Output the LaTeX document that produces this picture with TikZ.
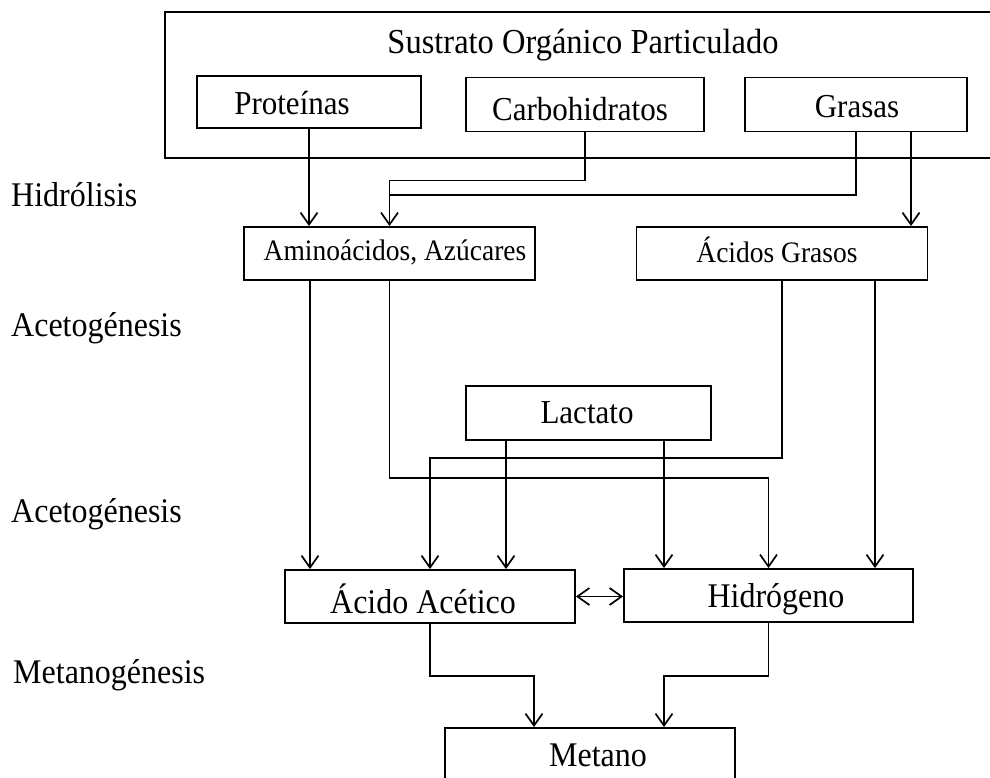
\documentclass[tikz,border=0pt]{standalone}
\usepackage{fontspec}
\setmainfont{Liberation Serif}
\usetikzlibrary{arrows.meta,calc}
\newcommand{\vtxt}[1]{\scalebox{1}[1.08]{#1}}
\begin{document}
\begin{tikzpicture}[x=1pt,y=-1pt,
  box/.style={draw,line width=1.9pt,rectangle,inner sep=0pt},
  txt/.style={inner sep=0pt,font=\fontsize{31}{36}\selectfont},
  ltxt/.style={inner sep=0pt,font=\fontsize{32}{37}\selectfont},
  stxt/.style={inner sep=0pt,font=\fontsize{27.5}{32}\selectfont},
  ln/.style={line width=1.7pt},
  arr/.style={ln,-{Straight Barb[length=12pt,width=17pt,line width=1.7pt]}},
  darr/.style={ln,{Straight Barb[length=12pt,width=17pt,line width=1.7pt]}-{Straight Barb[length=12pt,width=17pt,line width=1.7pt]}}]
\clip (0,0) rectangle (990,778);
\fill[white] (0,0) rectangle (990,778);
% boxes
\node[box,minimum width=830pt,minimum height=146pt] (outer) at (580,85) {};
\node[inner sep=0pt,font=\fontsize{32.5}{38}\selectfont] (tsus) at (583,45) {\vtxt{Sustrato Orgánico Particulado}};
\node[box,minimum width=224pt,minimum height=52pt] (prot) at (309,102) {};
\node[txt] (tprot) at (292,103) {\vtxt{Proteínas}};
\node[box,minimum width=238pt,minimum height=54pt] (carb) at (585,104.5) {};
\node[txt] (tcarb) at (580,109) {\vtxt{Carbohidratos}};
\node[box,minimum width=222pt,minimum height=54pt] (gras) at (856,104.5) {};
\node[txt] (tgras) at (857,107) {\vtxt{Grasas}};
\node[box,minimum width=291pt,minimum height=53pt] (amino) at (389.5,253.5) {};
\node[stxt] (tamino) at (395,252) {\vtxt{Aminoácidos, Azúcares}};
\node[box,minimum width=291pt,minimum height=53pt] (acgras) at (782,253.5) {};
\node[stxt] (tacgras) at (777,250) {\vtxt{Ácidos Grasos}};
\node[box,minimum width=245pt,minimum height=54pt] (lact) at (588.5,413) {};
\node[txt] (tlact) at (587,413) {\vtxt{Lactato}};
\node[box,minimum width=290pt,minimum height=53pt] (acet) at (430,596.5) {};
\node[ltxt] (tacet) at (423,599) {\vtxt{Ácido Acético}};
\node[box,minimum width=289pt,minimum height=53pt] (hidro) at (768.5,595.5) {};
\node[ltxt] (thidro) at (776,599) {\vtxt{Hidrógeno}};
\node[box,minimum width=290pt,minimum height=72pt] (metano) at (590,764) {};
\node[ltxt] (tmet) at (598,755) {\vtxt{Metano}};
% side labels
\node[ltxt,anchor=west] (l1) at (11,195) {\vtxt{Hidrólisis}};
\node[ltxt,anchor=west] (l2) at (11,328) {\vtxt{Acetogénesis}};
\node[ltxt,anchor=west] (l3) at (11,514) {\vtxt{Acetogénesis}};
\node[ltxt,anchor=west] (l4) at (13,675) {\vtxt{Metanogénesis}};
% connectors
\draw[arr] (prot.south) -- (prot.south |- amino.north);
\draw[arr] (carb.south) -- ++(0,48) -| (amino.north);
\draw[ln] (gras.south) |- ($(amino.north)+(0,-31)$);
\draw[arr] ([xshift=55pt]gras.south) -- ([xshift=55pt]gras.south |- acgras.north);
\draw[arr] ([xshift=-79.5pt]amino.south) -- ([xshift=-79.5pt]amino.south |- acet.north);
\draw[arr] (amino.south) -- ++(0,197) -| (hidro.north);
\draw[arr] (acgras.south) -- ++(0,177) -| (acet.north);
\draw[arr] ([xshift=93pt]acgras.south) -- ([xshift=93pt]acgras.south |- hidro.north);
\draw[arr] ([xshift=-82.5pt]lact.south) -- ([xshift=-82.5pt]lact.south |- acet.north);
\draw[arr] ([xshift=75.5pt]lact.south) -- ([xshift=75.5pt]lact.south |- hidro.north);
\draw[darr] (acet.east) -- (acet.east -| hidro.west);
\draw[arr] (acet.south) -- ++(0,52) -| ([xshift=-56pt]metano.north);
\draw[arr] (hidro.south) -- ++(0,53) -| ([xshift=74pt]metano.north);
\end{tikzpicture}
\end{document}
